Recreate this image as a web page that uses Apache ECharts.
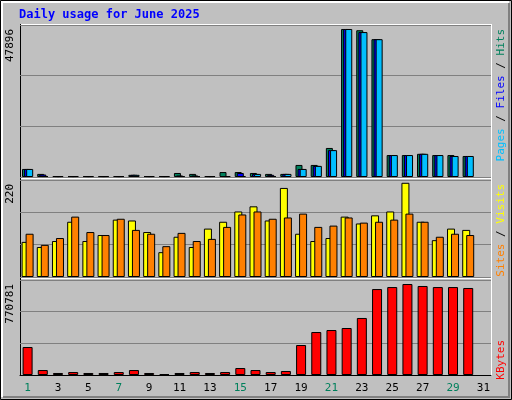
<!DOCTYPE html>
<html><head><meta charset="utf-8">
<script src="https://cdn.jsdelivr.net/npm/echarts@6/dist/echarts.min.js"></script>
<style>html,body{margin:0;padding:0;background:#c0c0c0}#c{width:512px;height:400px}</style>
</head><body><div id="c"></div>
<script>
const days = Array.from({length:31},(_,i)=>String(i+1));
const weekendDays = ['1','7','8','14','15','21','22','28','29'];
const hits  = [2600,1000,300,300,300,300,300,700,300,300,1300,1000,300,1600,1600,1300,1000,1000,3900,3900,9400,47896,47500,44600,7100,7100,7500,7100,7100,6800,null];
const files = [2600,800,300,300,300,300,300,700,300,300,500,500,300,300,1300,1000,700,1000,2600,3600,8700,47896,46900,44600,7100,7100,7500,7100,6800,6800,null];
const pages = [2600,300,300,300,300,300,300,700,300,300,300,300,300,300,300,1000,300,1000,2600,3600,8700,47896,46900,44600,7100,7100,7500,7100,6800,6800,null];
const sites  = [82,70,84,129,84,98,134,132,105,58,94,70,113,129,153,165,132,208,101,84,91,141,125,144,153,220,129,86,113,110,null];
const visits = [101,75,91,141,105,98,136,110,101,72,103,84,89,117,146,153,136,139,148,117,120,139,127,129,134,148,129,94,101,98,null];
const kbytes = [237000,42000,17000,25000,17000,17000,25000,42000,17000,8000,17000,25000,17000,25000,59000,42000,25000,34000,254000,364000,381000,398000,483000,728000,745000,770781,754000,745000,745000,737000,null];
const maxLabels = ['47896','220','770781'];

const chart = echarts.init(document.getElementById('c'));
const F = 'DejaVu Sans Mono';
const grids = [
  {left:20,right:21,top:25,height:152},
  {left:20,right:21,top:180,height:97},
  {left:20,right:21,top:280,height:95}
];
const maxes = [49190, 226.5, 804700];
const xAxes = grids.map((g,i)=>({gridIndex:i,type:'category',data:days,
  axisTick:{show:false},axisLine:{show:i===2,lineStyle:{color:'#000'}},
  axisLabel:{show:i===2,margin:8,fontFamily:F,fontSize:11,
    color:(v)=>weekendDays.includes(v)?'#00805c':'#000'}}));
const yAxes = grids.map((g,i)=>({gridIndex:i,type:'value',min:0,max:maxes[i],interval:maxes[i]/3,
  axisLabel:{show:false},axisLine:{show:false},axisTick:{show:false},
  splitLine:{show:true,lineStyle:{color:'#808080',width:1}}}));
const bs = (name,data,color,xi,w,gap)=>({name,type:'bar',data,xAxisIndex:xi,yAxisIndex:xi,barWidth:w,barGap:gap,
  itemStyle:{color,borderColor:'#000',borderWidth:1},animation:false});
const series = [
  bs('Hits',hits,'#00805c',0,7,'-70%'),
  bs('Files',files,'#0000ff',0,7,'-70%'),
  bs('Pages',pages,'#00bfff',0,7,'-70%'),
  bs('Sites',sites,'#ffff00',1,8,'-50%'),
  bs('Visits',visits,'#ff8000',1,8,'-50%'),
  bs('KBytes',kbytes,'#ff0000',2,10,'0%')
];
const vtext = (x,y,rich,text)=>({type:'text',x,y,rotation:Math.PI/2,style:{text,rich,font:'11px '+F,align:'right',verticalAlign:'middle'}});
const graphic = [
  {type:'rect',shape:{x:0.5,y:0.5,width:511,height:399},style:{fill:'#c0c0c0',stroke:'#000',lineWidth:1},z:-10},
  {type:'polyline',shape:{points:[[2,397],[2,2],[509,2]]},style:{stroke:'#fff',lineWidth:2,fill:null},z:-9},
  {type:'polyline',shape:{points:[[3,397],[509,397],[509,3]]},style:{stroke:'#808080',lineWidth:2,fill:null},z:-9},
  {type:'polyline',shape:{points:[[20.5,177],[20.5,24.5],[491.5,24.5],[491.5,177]]},style:{stroke:'#fff',lineWidth:1,fill:null}},
  {type:'line',shape:{x1:20,y1:178.5,x2:492,y2:178.5},style:{stroke:'#fff',lineWidth:1}},
  {type:'line',shape:{x1:20,y1:278.5,x2:492,y2:278.5},style:{stroke:'#fff',lineWidth:1}},
  {type:'line',shape:{x1:20.5,y1:24,x2:20.5,y2:376},style:{stroke:'#000',lineWidth:1}},
  {type:'line',shape:{x1:491.5,y1:24,x2:491.5,y2:376},style:{stroke:'#fff',lineWidth:1}},
  {type:'text',x:19,y:9,style:{text:'Daily usage for June 2025',font:'bold 12px '+F,fill:'#0000ff'}},
  {type:'text',x:10,y:29,rotation:Math.PI/2,style:{text:maxLabels[0],font:'11px '+F,fill:'#000',align:'right',verticalAlign:'middle'}},
  {type:'text',x:10,y:184,rotation:Math.PI/2,style:{text:maxLabels[1],font:'11px '+F,fill:'#000',align:'right',verticalAlign:'middle'}},
  {type:'text',x:10,y:284,rotation:Math.PI/2,style:{text:maxLabels[2],font:'11px '+F,fill:'#000',align:'right',verticalAlign:'middle'}},
  {type:'text',x:501,y:29,rotation:Math.PI/2,style:{text:'{a|Pages} {s|/} {b|Files} {s|/} {c|Hits}',
    rich:{a:{fill:'#00bfff',font:'11px '+F},b:{fill:'#0000ff',font:'11px '+F},c:{fill:'#00805c',font:'11px '+F},s:{fill:'#000',font:'11px '+F}},
    font:'11px '+F,align:'right',verticalAlign:'middle'}},
  {type:'text',x:501,y:184,rotation:Math.PI/2,style:{text:'{a|Sites} {s|/} {b|Visits}',
    rich:{a:{fill:'#ff8000',font:'11px '+F},b:{fill:'#ffff00',font:'11px '+F},s:{fill:'#000',font:'11px '+F}},
    font:'11px '+F,align:'right',verticalAlign:'middle'}},
  {type:'text',x:501,y:340,rotation:Math.PI/2,style:{text:'KBytes',font:'11px '+F,fill:'#ff0000',align:'right',verticalAlign:'middle'}}
];
chart.setOption({animation:false,backgroundColor:'#c0c0c0',grid:grids,xAxis:xAxes,yAxis:yAxes,series,graphic});
</script></body></html>
